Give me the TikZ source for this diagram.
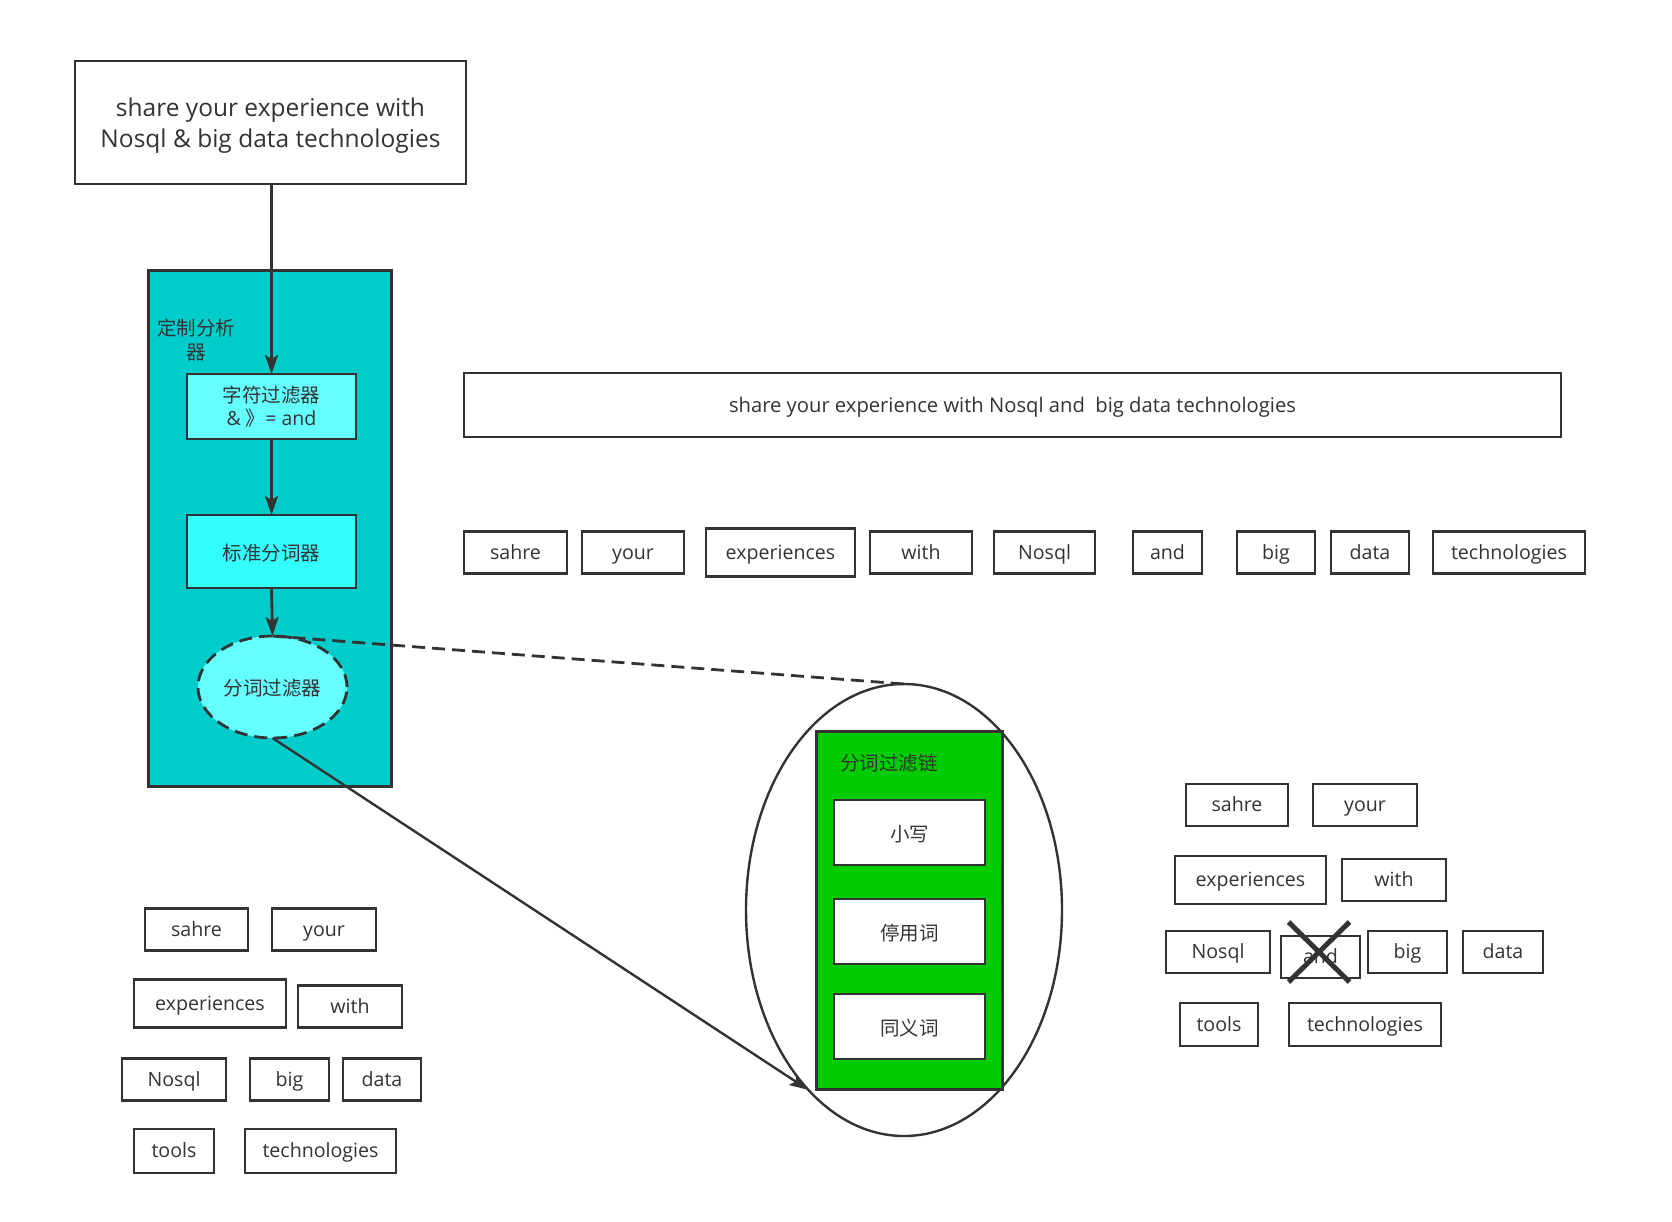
\documentclass[tikz,border=0pt]{standalone}
\usepackage{fontspec}
\setmainfont{Open Sans}
\newfontfamily\cjk{Noto Sans CJK SC}
\usetikzlibrary{arrows.meta,shapes.geometric}
\definecolor{ink}{HTML}{333333}
\definecolor{tealbg}{HTML}{00CCCC}
\definecolor{cyanA}{HTML}{66FFFF}
\definecolor{cyanB}{HTML}{33FFFF}
\definecolor{grn}{HTML}{00CC00}
\begin{document}
\begin{tikzpicture}[x=1pt,y=-1pt,
  every node/.style={text=ink, inner sep=0pt, outer sep=0pt},
  box/.style={draw=ink, line width=2.9pt, rectangle},
  wfont/.style={font=\fontsize{19.6}{22}\selectfont, text height=16.4pt, text depth=2.6pt},
  wbox/.style={box, minimum height=42pt, wfont},
  tip/.style={-{Stealth[length=19pt,width=13pt,inset=4pt]}},
  arr/.style={draw=ink, line width=2.8pt, tip},
  cnf/.style={font=\cjk\fontsize{19.5}{24}\selectfont},
  cn/.style={cnf, text height=18.6pt, text depth=1.4pt},
  dashline/.style={draw=ink, line width=2.8pt, dash pattern=on 13pt off 7pt},
  xline/.style={draw=ink, line width=5pt}
]
\fill[white] (0,0) rectangle (1672,1221);
\useasboundingbox (0,0) rectangle (1672,1221);

% source sentence
\node[box, minimum width=391pt, minimum height=123pt, align=center,
      font=\fontsize{24.5}{31}\selectfont, text height=56pt, text depth=6pt] (src) at (270.5,122.5)
      {share your experience with\\Nosql \& big data technologies};

% analyzer container
\node[box, fill=tealbg, line width=3pt, minimum width=243pt, minimum height=516pt] (ana) at (269.5,528) {};
\node[cnf, align=center] (analbl) at (196,340) {定制分析\\器};

\node[box, fill=cyanA, minimum width=169pt, minimum height=65pt, align=center,
      font=\fontsize{19.5}{23.5}\selectfont] (cf) at (271.5,406.5)
      {{\cjk 字符过滤器}\\\& {\cjk 》}= and};
\node[box, fill=cyanB, minimum width=169pt, minimum height=73pt, cn] (tok) at (271.5,551.5) {标准分词器};
\node[ellipse, draw=ink, fill=cyanA, line width=2.8pt, dash pattern=on 13pt off 7pt,
      minimum width=149pt, minimum height=102pt, cn] (tf) at (272.5,687) {分词过滤器};

\draw[arr] (src.south -| cf.north) -- (cf.north);
\draw[arr] (cf.south) -- (tok.north);
\draw[arr] (tok.south) -- (tf.north);

% long sentence
\node[box, minimum width=1097pt, minimum height=64pt, font=\fontsize{20.2}{22}\selectfont,
      text height=16.6pt, text depth=2.6pt] (sent) at (1012.5,405)
  {share your experience with Nosql and\ \ big data technologies};

% middle row of tokens
\node[wbox, minimum width=103pt] (m1) at (515.5,552.5) {sahre};
\node[wbox, minimum width=102pt] (m2) at (633,552.5) {your};
\node[wbox, minimum width=149pt, minimum height=48pt] (m3) at (780.5,552.5) {experiences};
\node[wbox, minimum width=102pt] (m4) at (921,552.5) {with};
\node[wbox, minimum width=101pt] (m5) at (1044.5,552.5) {Nosql};
\node[wbox, minimum width=69pt] (m6) at (1167.5,552.5) {and};
\node[wbox, minimum width=78pt] (m7) at (1276,552.5) {big};
\node[wbox, minimum width=78pt] (m8) at (1370,552.5) {data};
\node[wbox, minimum width=152pt] (m9) at (1509,552.5) {technologies};

% filter chain
\node[ellipse, draw=ink, line width=2.4pt, minimum width=316pt, minimum height=452pt] (chain) at (904,910) {};
\node[box, fill=grn, line width=3pt, minimum width=186pt, minimum height=358pt] (gbox) at (909,910) {};
\node[cnf] (glbl) at (889,763) {分词过滤链};
\node[box, fill=white, minimum width=151pt, minimum height=65pt, cn] (low) at (909.5,832.5) {小写};
\node[box, fill=white, minimum width=151pt, minimum height=65pt, cn] (stop) at (909.5,931.5) {停用词};
\node[box, fill=white, minimum width=151pt, minimum height=65pt, cn] (syn) at (909.5,1026.5) {同义词};

\draw[dashline] (tf.north) -- (chain.north);
\draw[draw=ink, line width=2.4pt, tip] (tf.south) -- (chain.-118);

% left token group
\node[wbox, minimum width=103pt] (l1) at (196.5,929.5) {sahre};
\node[wbox, minimum width=104pt] (l2) at (324,929.5) {your};
\node[wbox, minimum width=152pt, minimum height=48pt] (l3) at (210,1003.5) {experiences};
\node[wbox, minimum width=104pt] (l4) at (350,1006.5) {with};
\node[wbox, minimum width=104pt] (l5) at (174,1079.5) {Nosql};
\node[wbox, minimum width=79pt] (l6) at (289.5,1079.5) {big};
\node[wbox, minimum width=78pt] (l7) at (382,1079.5) {data};
\node[wbox, minimum width=80pt, minimum height=44pt] (l8) at (174,1151) {tools};
\node[wbox, minimum width=151pt, minimum height=44pt] (l9) at (320.5,1151) {technologies};

% right token group
\node[wbox, minimum width=102pt] (r1) at (1237,805) {sahre};
\node[wbox, minimum width=104pt] (r2) at (1365,805) {your};
\node[wbox, minimum width=151pt, minimum height=48pt] (r3) at (1250.5,880) {experiences};
\node[wbox, minimum width=104pt] (r4) at (1394,880) {with};
\node[wbox, minimum width=104pt] (r5) at (1218,952) {Nosql};
\node[wbox, minimum width=79pt] (r6) at (1320.5,957) {and};
\node[wbox, minimum width=79pt] (r7) at (1407.5,952) {big};
\node[wbox, minimum width=80pt] (r8) at (1503,952) {data};
\node[wbox, minimum width=78pt, minimum height=43pt] (r9) at (1219,1024.5) {tools};
\node[wbox, minimum width=152pt, minimum height=43pt] (r10) at (1365,1024.5) {technologies};

\draw[xline] ([shift={(-32,-35)}]r6.center) -- ([shift={(29,25)}]r6.center);
\draw[xline] ([shift={(29,-35)}]r6.center) -- ([shift={(-32,25)}]r6.center);
\end{tikzpicture}
\end{document}
